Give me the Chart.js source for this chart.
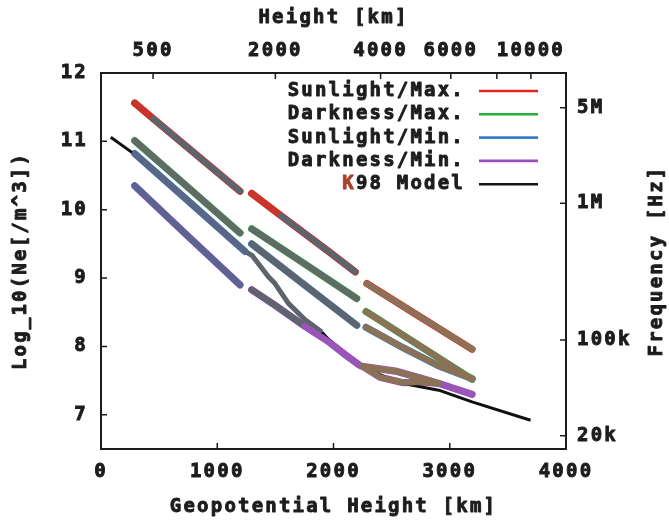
<!DOCTYPE html>
<html>
<head>
<meta charset="utf-8">
<script src="https://cdn.jsdelivr.net/npm/chart.js@4.4.1/dist/chart.umd.min.js"></script>
<style>
  html, body { margin: 0; padding: 0; background: #fff; }
  #wrap { width: 669px; height: 522px; position: relative; }
</style>
</head>
<body>
<div id="wrap"><canvas id="neChart"></canvas></div>
<script>
// geopotential height [km] and log10(Ne), null = gap between passes
const sunMaxH   = [290, 450, 900, 1196, null, 1296, 1550, 1950, 2187, null, 2287, 2700, 3192];
const sunMaxNe  = [11.56, 11.33, 10.69, 10.27, null, 10.24, 9.91, 9.40, 9.09, null, 8.92, 8.48, 7.96];

const darkMaxH  = [290, 700, 1196, null, 1296, 1750, 2200, null, 2280, 2750, 3192];
const darkMaxNe = [11.01, 10.40, 9.66, null, 9.72, 9.21, 8.70, null, 8.51, 8.00, 7.52];

const sunMinH   = [290, 836, 1238, null, 1296, 1750, 2200, null, 2280, 2600, 2900, 3192];
const sunMinNe  = [10.82, 10.00, 9.39, null, 9.50, 8.90, 8.31, null, 8.28, 7.98, 7.72, 7.53];

const darkMinH  = [290, 750, 1196, null, 1296, 1500, 1750, 1950, 2100, 2220, null,
                   2244, 2532, 2761, 2905, 3192, null, 2260, 2400, 2600, 2750, 2905];
const darkMinNe = [10.35, 9.61, 8.90, null, 8.83, 8.60, 8.30, 8.08, 7.88, 7.73, null,
                   7.71, 7.64, 7.53, 7.46, 7.30, null, 7.70, 7.55, 7.47, 7.48, 7.46];

const modelH  = [84, 290, 836, 1239, 1300, 1440, 1497, 1612, 1756, 1899, 2014, 2100, 2230, 2532, 2905, 3192, 3695];
const modelNe = [11.06, 10.81, 9.98, 9.39, 9.33, 9.02, 8.92, 8.63, 8.39, 8.21, 8.00, 7.86, 7.73, 7.48, 7.36, 7.19, 6.92];

const seriesNames = ['Sunlight/Max.', 'Darkness/Max.', 'Sunlight/Min.', 'Darkness/Min.', 'K98 Model'];

// axes
const xTicks = [0, 1000, 2000, 3000, 4000];
const yTicks = [7, 8, 9, 10, 11, 12];
const topTickH = [448, 1500, 2405, 3009, 3405, 3698];   // geometric height ticks placed on geopotential scale
const topTickLabels = ['500', '2000', '4000', '6000', '', '10000'];
const freqTicks = [5e6, 1e6, 1e5, 2e4];
const freqLabels = ['5M', '1M', '100k', '20k'];

const FONT = '"DejaVu Sans Mono", "Liberation Mono", monospace';
const INK = '#1c1c1c';
const SPACING = '2.2px';
const HEAVY = 0.9;   // extra stroke to thicken the glyphs

const lineColors = ['#e2261d', '#22b03f', '#3b7ccc', '#9a50c0', '#111111'];
const GREY = '#5e646c', BROWN = '#8b7257', PURPLE = '#9a55b8';
const bandStops = [
  [[0, '#c8352a'], [450, GREY], [1250, '#c8352a'], [1550, GREY], [2240, BROWN]],
  [[0, '#626966'], [2240, BROWN]],
  [[0, '#5b6584'], [1250, GREY], [2240, BROWN]],
  [[0, '#5a6490'], [1250, GREY], [1780, PURPLE], [2240, BROWN], [2905, PURPLE]]
];
// model curve is hidden under a grey data band between these heights
const modelGreyFrom = 1250, modelGreyTo = 1900;

function toPoints(h, ne) {
  return h.map((x, i) => x === null ? { x: h[i - 1], y: null } : { x: x, y: ne[i] });
}

function bandColor(stops, x) {
  let c = stops[0][1];
  stops.forEach(s => { if (x >= s[0]) c = s[1]; });
  return c;
}

const seriesData = [
  toPoints(sunMaxH, sunMaxNe),
  toPoints(darkMaxH, darkMaxNe),
  toPoints(sunMinH, sunMinNe),
  toPoints(darkMinH, darkMinNe)
];

const datasets = [];
seriesData.forEach((pts, i) => {
  // coloured edge underneath
  datasets.push({
    label: seriesNames[i], data: pts, borderColor: lineColors[i], borderWidth: 7.2,
    pointRadius: 0, borderCapStyle: 'round', borderJoinStyle: 'round', order: 3, tension: 0
  });
  // grey / brown band on top
  datasets.push({
    label: '', data: pts, borderColor: GREY, borderWidth: 6.2,
    pointRadius: 0, borderCapStyle: 'round', borderJoinStyle: 'round', order: 1, tension: 0,
    segment: { borderColor: c => bandColor(bandStops[i], (c.p0.parsed.x + c.p1.parsed.x) / 2) }
  });
});
datasets.push({
  label: seriesNames[4], data: toPoints(modelH, modelNe), borderColor: lineColors[4],
  borderWidth: 3, pointRadius: 0, order: 2, tension: 0, borderJoinStyle: 'round',
  segment: {
    borderColor: c => {
      const m = (c.p0.parsed.x + c.p1.parsed.x) / 2;
      return m > modelGreyFrom && m < modelGreyTo ? GREY : lineColors[4];
    },
    borderWidth: c => {
      const m = (c.p0.parsed.x + c.p1.parsed.x) / 2;
      return m > modelGreyFrom && m < modelGreyTo ? 5 : 3;
    }
  }
});

function fixSize(prop, v) {
  return s => { s[prop] = v; };
}

function heavyText(ctx, txt, x, y) {
  ctx.strokeText(txt, x, y);
  ctx.fillText(txt, x, y);
}

const decor = {
  id: 'decor',
  beforeLayout(chart) { chart.ctx.letterSpacing = SPACING; },
  beforeDraw(chart) { chart.ctx.letterSpacing = SPACING; },
  afterDraw(chart) {
    const ctx = chart.ctx;
    const a = chart.chartArea;
    const sc = chart.scales;
    ctx.save();
    ctx.letterSpacing = SPACING;
    ctx.strokeStyle = INK;
    ctx.lineWidth = 2;
    ctx.strokeRect(a.left, a.top, a.right - a.left, a.bottom - a.top);

    // inner ticks
    const TL = 6;
    ctx.lineWidth = 1.5;
    ctx.beginPath();
    sc.x.ticks.forEach(t => { const p = sc.x.getPixelForValue(t.value); ctx.moveTo(p, a.bottom); ctx.lineTo(p, a.bottom - TL); });
    sc.xTop.ticks.forEach(t => { const p = sc.xTop.getPixelForValue(t.value); ctx.moveTo(p, a.top); ctx.lineTo(p, a.top + TL); });
    sc.y.ticks.forEach(t => { const p = sc.y.getPixelForValue(t.value); ctx.moveTo(a.left, p); ctx.lineTo(a.left + TL, p); });
    sc.yRight.ticks.forEach(t => { const p = sc.yRight.getPixelForValue(t.value); ctx.moveTo(a.right, p); ctx.lineTo(a.right - TL, p); });
    ctx.stroke();

    // titles
    ctx.font = 'bold 19px ' + FONT;
    ctx.fillStyle = INK;
    ctx.strokeStyle = INK;
    ctx.lineWidth = HEAVY;
    ctx.lineJoin = 'round';
    ctx.textAlign = 'center';
    ctx.textBaseline = 'middle';
    const cx = (a.left + a.right) / 2, cy = (a.top + a.bottom) / 2;
    heavyText(ctx, 'Height [km]', cx, 18);
    heavyText(ctx, 'Geopotential Height [km]', cx, 507);
    [[21, 'Log_10(Ne[/m^3])'], [657, 'Frequency [Hz]']].forEach(([x, txt]) => {
      ctx.save();
      ctx.translate(x, cy);
      ctx.rotate(-Math.PI / 2);
      heavyText(ctx, txt, 0, 0);
      ctx.restore();
    });

    // legend, text right aligned, sample line to the right
    const textRight = 465, lx0 = 479, lx1 = 538, ly0 = 91, dy = 23.3;
    ctx.textAlign = 'right';
    seriesNames.forEach((name, i) => {
      const y = ly0 + i * dy;
      ctx.lineWidth = HEAVY;
      if (name.startsWith('K98')) {
        const rest = name.slice(1);
        ctx.fillStyle = INK;
        ctx.strokeStyle = INK;
        heavyText(ctx, rest, textRight, y);
        const w = ctx.measureText(rest).width;
        ctx.fillStyle = '#a8402a';
        ctx.strokeStyle = '#a8402a';
        heavyText(ctx, name[0], textRight - w, y);
      } else {
        ctx.fillStyle = INK;
        ctx.strokeStyle = INK;
        heavyText(ctx, name, textRight, y);
      }
      ctx.strokeStyle = lineColors[i];
      ctx.lineWidth = 2.6;
      ctx.beginPath();
      ctx.moveTo(lx0, y);
      ctx.lineTo(lx1, y);
      ctx.stroke();
    });
    ctx.restore();
  }
};

const tickFont = { family: FONT, size: 19, weight: 'bold' };
const tickBase = { font: tickFont, color: INK, textStrokeColor: INK, textStrokeWidth: HEAVY, autoSkip: false };

new Chart(document.getElementById('neChart'), {
  type: 'line',
  data: { datasets: datasets },
  plugins: [decor],
  options: {
    responsive: true,
    maintainAspectRatio: false,
    animation: false,
    layout: { padding: 0 },
    plugins: { legend: { display: false }, tooltip: { enabled: false } },
    scales: {
      x: {
        type: 'linear', position: 'bottom', min: 0, max: 4000,
        grid: { display: false, drawTicks: false }, border: { display: false },
        afterBuildTicks: s => { s.ticks = xTicks.map(v => ({ value: v })); },
        afterFit: fixSize('height', 73),
        ticks: Object.assign({}, tickBase, {
          padding: 12, maxRotation: 0, minRotation: 0, callback: v => String(v)
        })
      },
      xTop: {
        type: 'linear', position: 'top', min: 0, max: 4000,
        grid: { display: false, drawTicks: false }, border: { display: false },
        afterBuildTicks: s => { s.ticks = topTickH.map(v => ({ value: v })); },
        afterFit: fixSize('height', 73),
        ticks: Object.assign({}, tickBase, {
          padding: 11, maxRotation: 0, minRotation: 0, callback: (v, i) => topTickLabels[i]
        })
      },
      y: {
        type: 'linear', position: 'left', min: 6.5, max: 12,
        grid: { display: false, drawTicks: false }, border: { display: false },
        afterBuildTicks: s => { s.ticks = yTicks.map(v => ({ value: v })); },
        afterFit: fixSize('width', 101),
        ticks: Object.assign({}, tickBase, { padding: 13, callback: v => String(v) })
      },
      yRight: {
        type: 'linear', position: 'right', min: 6.5, max: 12,
        grid: { display: false, drawTicks: false }, border: { display: false },
        // plasma frequency f = 8.98 sqrt(Ne)
        afterBuildTicks: s => { s.ticks = freqTicks.map(f => ({ value: 2 * Math.log10(f / 8.98) })); },
        afterFit: fixSize('width', 103),
        ticks: Object.assign({}, tickBase, { padding: 11, callback: (v, i) => freqLabels[i] })
      }
    }
  }
});
</script>
</body>
</html>
